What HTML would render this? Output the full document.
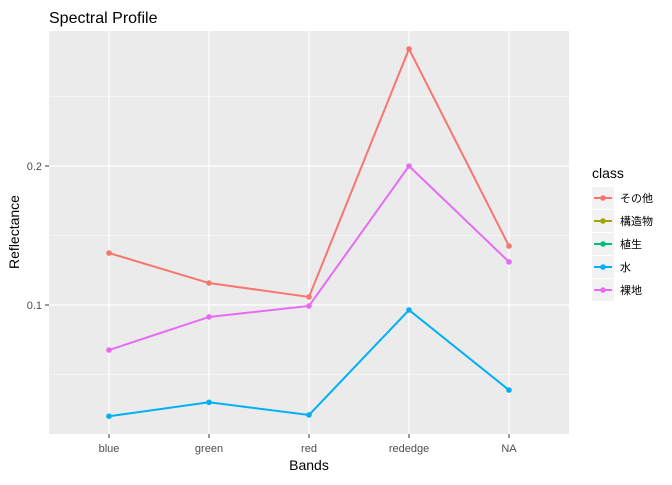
<!DOCTYPE html>
<html><head><meta charset="utf-8"><style>
body{margin:0;background:#fff;}
svg text{font-family:"Liberation Sans","Noto Sans CJK JP",sans-serif;}
</style></head><body>
<svg id="chart" width="672" height="480" xmlns="http://www.w3.org/2000/svg">
<text x="49" y="23" font-size="16" fill="#000">Spectral Profile</text>
<rect x="49" y="31" width="520" height="403" fill="#ebebeb"/>
<g id="grid"></g><g id="series"></g><g id="axes"></g><g id="legend"></g>
<text x="309" y="470" font-size="14" text-anchor="middle">Bands</text>
<text transform="translate(19,232) rotate(-90)" font-size="14" text-anchor="middle">Reflectance</text>
</svg>
<script>
const categories=["blue","green","red","rededge","NA"];
const yTicks=[0.1,0.2];
const yMinor=[0.05,0.15,0.25];
const seriesNames=["その他","構造物","植生","水","裸地"];
const seriesColors=["#F8766D","#A3A500","#00BF7D","#00B0F6","#E76BF3"];
const otherVals=[0.1374,0.1158,0.1058,0.2842,0.1424];
const bareVals=[0.0676,0.0914,0.0993,0.200,0.131];
const waterVals=[0.020,0.030,0.0209,0.0964,0.0388];
const NS="http://www.w3.org/2000/svg";
function x(i){return 109+i*100;}
function y(v){return 305-(v-0.1)*1390;}
function mk(t,a,p){const e=document.createElementNS(NS,t);for(const k in a)e.setAttribute(k,a[k]);p.appendChild(e);return e;}
const grid=document.getElementById('grid'),axes=document.getElementById('axes'),ser=document.getElementById('series'),leg=document.getElementById('legend');
yMinor.forEach(v=>{const l=mk('line',{x1:49,x2:569,y1:y(v),y2:y(v),stroke:'#fff','stroke-width':0.6},grid);

});
yTicks.forEach(v=>{const l=mk('line',{x1:49,x2:569,y1:y(v),y2:y(v),stroke:'#fff','stroke-width':1.2},grid);


mk('line',{x1:45,x2:49,y1:y(v),y2:y(v),stroke:'#333'},axes);
const t=mk('text',{x:42,y:y(v)+4,'font-size':11,fill:'#4d4d4d','text-anchor':'end'},axes);t.textContent=v.toFixed(1);

});
categories.forEach((c,i)=>{const l=mk('line',{x1:x(i),x2:x(i),y1:31,y2:434,stroke:'#fff','stroke-width':1.2},grid);


mk('line',{x1:x(i),x2:x(i),y1:434,y2:438,stroke:'#333'},axes);
const t=mk('text',{x:x(i),y:452,'font-size':11,fill:'#4d4d4d','text-anchor':'middle'},axes);t.textContent=c;

});
function draw(vals,col,name){const g=mk('g',{},ser);


mk('polyline',{points:vals.map((v,i)=>x(i)+','+y(v)).join(' '),fill:'none',stroke:col,'stroke-width':2},g);
vals.forEach((v,i)=>{const c=mk('circle',{cx:x(i),cy:y(v),r:2.8,fill:col},g);

});}
draw(waterVals,seriesColors[3],'series-water');
draw(bareVals,seriesColors[4],'series-bare-land');
draw(otherVals,seriesColors[0],'series-other');
const lt=mk('text',{x:592,y:178,'font-size':14},leg);lt.textContent='class';


seriesNames.forEach((n,i)=>{const cy=198+i*23;const g=mk('g',{},leg);


mk('rect',{x:592,y:cy-11,width:22,height:22,fill:'#f2f2f2'},g);
mk('line',{x1:594,x2:612,y1:cy,y2:cy,stroke:seriesColors[i],'stroke-width':2},g);
mk('circle',{cx:603,cy:cy,r:2.8,fill:seriesColors[i]},g);
const t=mk('text',{x:620,y:cy+4,'font-size':11},g);t.textContent=n;});
</script>
</body></html>
